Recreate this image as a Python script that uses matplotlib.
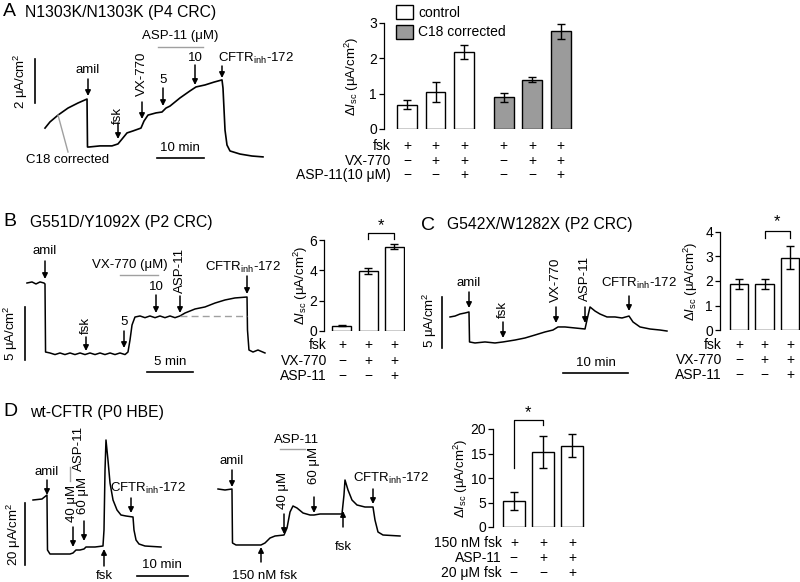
import matplotlib
matplotlib.use('Agg')
import matplotlib.pyplot as plt
from matplotlib.patches import FancyArrowPatch
from matplotlib.lines import Line2D
import matplotlib.transforms as mtrans

plt.rcParams['font.family'] = ['Liberation Sans', 'DejaVu Sans']
plt.rcParams['mathtext.fontset'] = 'custom'
plt.rcParams['mathtext.rm'] = 'Liberation Sans'
plt.rcParams['mathtext.it'] = 'Liberation Sans:italic'
plt.rcParams['font.size'] = 9

# ---------------- data ----------------
# Panel A trace (time in min, Isc in uA/cm2)
A_t = [5.32, 6.38, 8.09, 10.21, 12.34, 14.26, 14.36, 14.68, 17.02, 19.57, 20.85, 21.70, 22.77, 24.04,
       25.74, 26.38, 27.23, 28.94, 30.21, 31.06, 31.91, 34.04, 36.17, 37.45, 39.36, 41.28, 42.98,
       43.19, 43.62, 44.04, 44.68, 46.81, 49.36, 51.70]
A_I = [2.36, 2.64, 2.95, 3.27, 3.50, 3.68, 1.50, 1.50, 1.55, 1.55, 1.64, 1.86, 2.14, 2.23,
       2.36, 2.68, 2.95, 3.05, 3.09, 3.27, 3.36, 3.73, 4.05, 4.23, 4.32, 4.45, 4.55,
       4.18, 2.27, 1.59, 1.32, 1.18, 1.09, 1.05]

# Panel B trace
B_t = [1.30, 1.85, 2.28, 2.72, 3.15, 3.26, 3.32, 3.80, 4.35, 4.89, 5.43, 5.98, 6.52, 7.07, 7.61, 8.15,
       8.70, 9.24, 9.78, 10.33, 10.87, 11.41, 11.96, 12.28, 12.50, 12.72, 13.04, 13.59, 14.13, 14.67,
       15.22, 15.76, 16.30, 16.85, 17.39, 17.93, 18.48, 19.57, 20.65, 21.74, 22.83, 23.91, 25.22,
       25.27, 25.43, 25.87, 26.41, 27.17]
B_I = [9.15, 9.25, 9.06, 9.25, 9.15, 9.06, 2.64, 2.55, 2.40, 2.55, 2.40, 2.55, 2.40, 2.55, 2.40, 2.55,
       2.40, 2.55, 2.40, 2.55, 2.40, 2.55, 2.40, 2.64, 3.77, 5.19, 5.94, 6.04, 5.88, 6.04,
       5.88, 6.04, 5.88, 6.04, 5.88, 6.04, 6.32, 6.70, 6.89, 7.26, 7.55, 7.74, 7.83,
       4.72, 2.83, 2.64, 2.83, 2.55]
B_baseline = [17.93, 25.22]
B_baseline_I = 6.04

# Panel C trace
C_t = [2.31, 3.08, 3.85, 4.62, 5.23, 5.31, 6.15, 7.69, 9.23, 10.46, 12.31, 13.85, 15.38, 16.92, 18.15,
       18.92, 20.00, 21.54, 23.08, 23.38, 23.85, 24.62, 25.38, 26.46, 27.69, 28.77, 29.85, 30.46,
       31.54, 33.08, 34.62, 35.69]
C_I = [6.18, 6.27, 6.47, 6.57, 6.67, 3.73, 3.63, 3.73, 3.63, 3.73, 3.92, 4.12, 4.41, 4.71, 4.90,
       5.20, 5.20, 5.10, 5.00, 5.88, 7.16, 6.76, 6.47, 6.18, 6.18, 6.08, 6.27, 5.69,
       5.20, 5.00, 4.90, 4.80]

# Panel D traces
D1_t = [2.55, 4.31, 5.29, 5.39, 5.88, 7.84, 9.80, 10.39, 10.98, 11.76, 12.55, 12.94, 14.71, 16.27, 16.47,
        16.67, 16.86, 17.25, 17.65, 18.24, 19.02, 19.80, 20.78, 22.16, 22.35, 22.75, 23.33, 24.51, 27.65]
D1_I = [26.45, 26.77, 28.06, 10.32, 9.03, 9.03, 9.03, 9.35, 10.32, 10.32, 10.65, 11.29, 11.29, 11.61, 16.77,
        36.13, 45.81, 39.35, 31.94, 26.45, 23.23, 21.61, 21.29, 20.97, 16.77, 13.55, 12.26, 11.61, 11.29]
D2_t = [2.55, 3.92, 5.29, 5.39, 6.08, 8.82, 10.98, 11.76, 12.75, 13.73, 15.49, 16.08, 16.67, 17.25, 18.04,
        19.22, 20.59, 21.37, 22.55, 24.51, 26.86, 27.25, 27.45, 28.04, 28.82, 29.80, 31.37, 32.94, 33.33,
        33.92, 34.90, 38.24]
D2_I = [30.0, 29.68, 30.0, 12.58, 11.94, 11.94, 11.94, 12.58, 14.19, 14.84, 15.16, 17.42, 22.58, 24.52, 23.87,
        22.26, 21.61, 21.61, 21.94, 21.94, 21.94, 28.06, 32.90, 29.68, 26.45, 24.84, 24.19, 24.19, 20.0,
        16.13, 15.16, 14.84]

# Bar data
A_ctrl = [0.69, 1.04, 2.18]
A_ctrl_err = [0.12, 0.28, 0.20]
A_c18 = [0.90, 1.40, 2.76]
A_c18_err = [0.13, 0.06, 0.20]
A_rows = ['fsk', 'VX-770', 'ASP-11(10 μM)']
A_signs = [['+', '+', '+', '+', '+', '+'],
           ['−', '+', '+', '−', '+', '+'],
           ['−', '−', '+', '−', '−', '+']]

B_vals = [0.35, 3.96, 5.56]
B_err = [0.05, 0.18, 0.16]
B_rows = ['fsk', 'VX-770', 'ASP-11']
B_signs = [['+', '+', '+'], ['−', '+', '+'], ['−', '−', '+']]

C_vals = [1.88, 1.88, 2.94]
C_err = [0.19, 0.19, 0.47]
C_rows = ['fsk', 'VX-770', 'ASP-11']
C_signs = [['+', '+', '+'], ['−', '+', '+'], ['−', '−', '+']]

D_vals = [5.3, 15.3, 16.6]
D_err = [1.9, 3.2, 2.3]
D_rows = ['150 nM fsk', 'ASP-11', '20 μM fsk']
D_signs = [['+', '+', '+'], ['−', '+', '+'], ['−', '−', '+']]

# ---------------- layout helpers ----------------
W, H = 800, 582
fig = plt.figure(figsize=(8.0, 5.82), dpi=100)
fig.patch.set_facecolor('white')
GRAY = '#a0a0a0'
BARGRAY = '#9b9b9b'
FS = 9.5
TFS = 11.3


def fx(px):
    return px / W


def fy(py):
    return 1 - py / H


def px_axes(left, top, right, bottom):
    return fig.add_axes([fx(left), fy(bottom), (right - left) / W, (bottom - top) / H])


def txt(x, y, s, ha='center', va='center', rot=0, size=FS, **kw):
    fig.text(fx(x), fy(y), s, ha=ha, va=va, rotation=rot, fontsize=size, **kw)


def arrow(x, y0, y1):
    fig.add_artist(FancyArrowPatch((fx(x), fy(y0)), (fx(x), fy(y1)), transform=fig.transFigure,
                                   arrowstyle='-|>', mutation_scale=8, lw=1.1, color='k',
                                   shrinkA=0, shrinkB=0))


def fline(x0, y0, x1, y1, color='k', lw=1.0):
    fig.add_artist(Line2D([fx(x0), fx(x1)], [fy(y0), fy(y1)], transform=fig.transFigure,
                          color=color, lw=lw))


def trace_axes(left, top, right, bottom, ppm, ppu):
    ax = px_axes(left, top, right, bottom)
    ax.set_xlim(0, (right - left) / ppm)
    ax.set_ylim(0, (bottom - top) / ppu)
    ax.axis('off')
    return ax


def bar_axes(left, top, right, bottom, xlim, ylim, yticks, label_x):
    ax = px_axes(left, top, right, bottom)
    ax.set_xlim(*xlim)
    ax.set_ylim(*ylim)
    ax.set_yticks(yticks)
    ax.set_xticks([])
    for s in ['top', 'right', 'bottom']:
        ax.spines[s].set_visible(False)
    ax.spines['left'].set_linewidth(0.9)
    ax.tick_params(axis='y', direction='out', length=3.5, width=0.9, labelsize=FS + 0.5, pad=1.5)
    ax.set_ylabel(r'$\Delta I_{\rm sc}$ (μA/cm$^2$)', fontsize=FS)
    ax.yaxis.set_label_coords((label_x - left) / (right - left), 0.5)
    ax.yaxis.label.set_va('center')
    ax.patch.set_alpha(0)
    return ax


def table(ax, xs, rows, signs, row_ys, label_right):
    tr = mtrans.blended_transform_factory(ax.transData, fig.transFigure)
    for lab, sg, ry in zip(rows, signs, row_ys):
        txt(label_right, ry, lab, ha='right', size=FS + 0.5)
        for x, s in zip(xs, sg):
            ax.text(x, fy(ry), s, transform=tr, ha='center', va='center', fontsize=FS + 0.5,
                    clip_on=False)


ekw = dict(ecolor='k', elinewidth=1.0, capsize=3, capthick=1.0)

# ================= Panel A =================
txt(3, 12, 'A', ha='left', size=14)
txt(25, 13, 'N1303K/N1303K (P4 CRC)', ha='left', size=TFS)
axA = trace_axes(20, 25, 300, 180, 4.7, 22)
axA.plot(A_t, A_I, color='k', lw=1.2)
axA.plot([3.19, 3.19], [3.5, 5.5], color='k', lw=1.2)          # 2 uA/cm2 scale
axA.plot([29.15, 39.15], [1.0, 1.0], color='k', lw=1.2)        # 10 min scale
txt(21, 81, '2 μA/cm$^2$', rot=90)
txt(180, 148, '10 min')
txt(88, 70, 'amil'); arrow(88, 79, 96)
txt(118, 116, 'fsk', rot=90); arrow(118, 123, 139)
txt(142, 74, 'VX-770', rot=90); arrow(142, 102, 119)
txt(180, 36, 'ASP-11 (μM)'); fline(158, 47, 203, 47, color=GRAY)
txt(163, 80, '5'); arrow(163, 88, 106)
txt(195, 58, '10'); arrow(195, 65, 85)
txt(218, 58, r'CFTR$_{\rm inh}$-172', ha='left'); arrow(222, 66, 78)
txt(68, 160, 'C18 corrected'); fline(58, 115, 68, 152, color=GRAY)

A_pos_ctrl = [0, 1, 2]
A_pos_c18 = [3.4, 4.4, 5.4]
axAb = bar_axes(384, 23, 575, 129, (-0.81, 5.9), (0, 3), [0, 1, 2, 3], 352)
bc = axAb.bar(A_pos_ctrl, A_ctrl, width=0.7, color='white', edgecolor='k', lw=1.0, label='control')
bg = axAb.bar(A_pos_c18, A_c18, width=0.7, color=BARGRAY, edgecolor='k', lw=1.0, label='C18 corrected')
axAb.errorbar(A_pos_ctrl, A_ctrl, yerr=A_ctrl_err, fmt='none', **ekw)
axAb.errorbar(A_pos_c18, A_c18, yerr=A_c18_err, fmt='none', **ekw)
axAb.legend(handles=[bc, bg], loc='upper left', bbox_to_anchor=(fx(396), fy(5)),
            bbox_transform=fig.transFigure, frameon=False, fontsize=FS + 0.5, handlelength=1.2,
            handleheight=1.2, handletextpad=0.4, labelspacing=0.35, borderaxespad=0, borderpad=0)
table(axAb, A_pos_ctrl + A_pos_c18, A_rows, A_signs, [146, 161, 175], 391)

# ================= Panel B =================
txt(3, 222, 'B', ha='left', size=14)
txt(30, 223, 'G551D/Y1092X (P2 CRC)', ha='left', size=TFS)
axB = trace_axes(15, 240, 275, 380, 9.2, 10.6)
axB.plot(B_t, B_I, color='k', lw=1.1)
axB.plot(B_baseline, [B_baseline_I] * 2, color=GRAY, lw=1.0, ls=(0, (5, 3)))
axB.plot([1.09, 1.09], [1.89, 6.89], color='k', lw=1.2)       # 5 uA/cm2
axB.plot([14.35, 19.35], [0.75, 0.75], color='k', lw=1.2)     # 5 min
txt(11, 333, '5 μA/cm$^2$', rot=90)
txt(170, 362, '5 min')
txt(45, 251, 'amil'); arrow(45, 261, 279)
txt(86, 325, 'fsk', rot=90); arrow(86, 337, 351)
txt(124, 322, '5'); arrow(124, 331, 348)
txt(130, 265, 'VX-770 (μM)'); fline(120, 275, 158, 275, color=GRAY)
txt(156, 287, '10'); arrow(156, 295, 313)
txt(180, 270, 'ASP-11', rot=90); arrow(180, 296, 313)
txt(205, 267, r'CFTR$_{\rm inh}$-172', ha='left'); arrow(247, 276, 294)

B_pos = [0, 1, 2]
axBb = bar_axes(324, 240, 405, 331, (-0.69, 2.42), (0, 6), [0, 2, 4, 6], 301)
axBb.bar(B_pos, B_vals, width=0.73, color='white', edgecolor='k', lw=1.0)
axBb.errorbar(B_pos, B_vals, yerr=B_err, fmt='none', **ekw)
axBb.plot([1, 1, 2, 2], [6.07, 6.46, 6.46, 6.07], color='k', lw=0.9, clip_on=False)
axBb.text(1.5, 6.95, '*', ha='center', va='center', fontsize=12, clip_on=False)
table(axBb, B_pos, B_rows, B_signs, [345, 361, 376], 327)

# ================= Panel C =================
txt(421, 225, 'C', ha='left', size=14)
txt(447, 225, 'G542X/W1282X (P2 CRC)', ha='left', size=TFS)
axC = trace_axes(435, 260, 680, 380, 6.5, 10.2)
axC.plot(C_t, C_I, color='k', lw=1.1)
axC.plot([1.08, 1.08], [3.14, 8.14], color='k', lw=1.2)       # 5 uA/cm2
axC.plot([19.69, 29.69], [0.69, 0.69], color='k', lw=1.2)     # 10 min
txt(430, 320, '5 μA/cm$^2$', rot=90)
txt(596, 363, '10 min')
txt(469, 283, 'amil'); arrow(469, 292, 308)
txt(503, 309, 'fsk', rot=90); arrow(503, 322, 338)
txt(556, 280, 'VX-770', rot=90); arrow(556, 307, 323)
txt(585, 278, 'ASP-11', rot=90); arrow(585, 307, 323)
txt(601, 283, r'CFTR$_{\rm inh}$-172', ha='left'); arrow(629, 296, 311)

C_pos = [0, 1, 2]
axCb = bar_axes(720, 232, 800, 330, (-0.745, 2.39), (0, 4), [0, 1, 2, 3, 4], 691)
axCb.bar(C_pos, C_vals, width=0.72, color='white', edgecolor='k', lw=1.0)
axCb.errorbar(C_pos, C_vals, yerr=C_err, fmt='none', **ekw)
axCb.plot([1, 1, 2, 2], [3.76, 4.04, 4.04, 3.76], color='k', lw=0.9, clip_on=False)
axCb.text(1.5, 4.42, '*', ha='center', va='center', fontsize=12, clip_on=False)
table(axCb, C_pos, C_rows, C_signs, [345, 360, 375], 722)

# ================= Panel D =================
txt(3, 412, 'D', ha='left', size=14)
txt(30, 413, 'wt-CFTR (P0 HBE)', ha='left', size=TFS)
axD1 = trace_axes(20, 430, 200, 582, 5.1, 3.1)
axD1.plot(D1_t, D1_I, color='k', lw=1.1)
axD1.plot([0.98, 0.98], [5.48, 25.48], color='k', lw=1.2)     # 20 uA/cm2
axD1.plot([22.94, 32.94], [1.94, 1.94], color='k', lw=1.2)    # 10 min
txt(14, 534, '20 μA/cm$^2$', rot=90)
txt(162, 565, '10 min')
txt(47, 472, 'amil'); arrow(47, 480, 495)
txt(79, 448, 'ASP-11', rot=90); fline(70, 467, 70, 481, color=GRAY)
txt(72, 503, '40 μM', rot=90); arrow(73, 527, 547)
txt(83, 495, '60 μM', rot=90); arrow(84, 521, 541)
arrow(104, 566, 549); txt(104, 576, 'fsk')
txt(110, 488, r'CFTR$_{\rm inh}$-172', ha='left'); arrow(131, 498, 513)

axD2 = trace_axes(205, 430, 410, 582, 5.1, 3.1)
axD2.plot(D2_t, D2_I, color='k', lw=1.1)
txt(232, 461, 'amil'); arrow(232, 470, 487)
txt(297, 440, 'ASP-11'); fline(280, 449, 305, 449, color=GRAY)
txt(283, 490, '40 μM', rot=90); arrow(284, 514, 534)
txt(314, 465, '60 μM', rot=90); arrow(314, 497, 513)
arrow(261, 562, 547); txt(264, 576, '150 nM fsk')
arrow(343, 527, 511); txt(343, 547, 'fsk')
txt(353, 478, r'CFTR$_{\rm inh}$-172', ha='left'); arrow(373, 489, 504)

D_pos = [0, 1, 2]
axDb = bar_axes(493, 429, 588, 527, (-0.72, 2.55), (0, 20), [0, 5, 10, 15, 20], 461)
axDb.bar(D_pos, D_vals, width=0.76, color='white', edgecolor='k', lw=1.0)
axDb.errorbar(D_pos, D_vals, yerr=D_err, fmt='none', **ekw)
axDb.plot([0, 0, 1, 1], [12.0, 21.8, 21.8, 20.8], color='k', lw=0.9, clip_on=False)
axDb.text(0.5, 23.3, '*', ha='center', va='center', fontsize=12, clip_on=False)
table(axDb, D_pos, D_rows, D_signs, [543, 558, 573], 502)

fig.savefig('out.png', dpi=100)
